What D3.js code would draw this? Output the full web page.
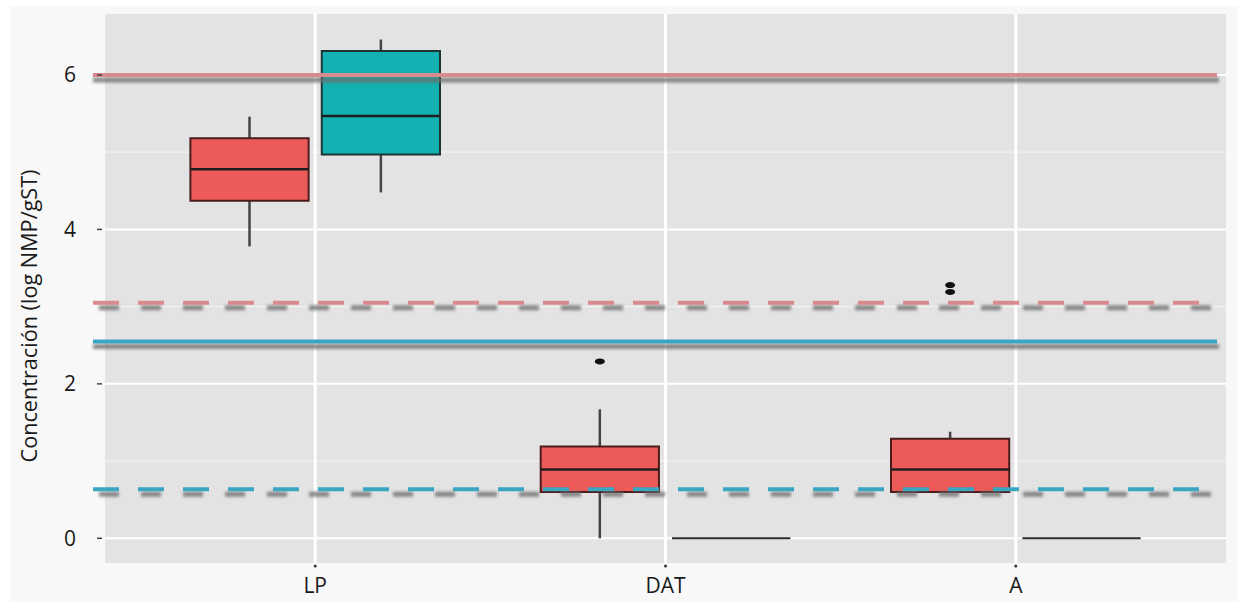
<!DOCTYPE html>
<html lang="es">
<head>
<meta charset="utf-8">
<title>Concentración</title>
<script src="https://d3js.org/d3.v7.min.js"></script>
<style>
  body { margin: 0; background: #ffffff; }
  svg { display: block; }
</style>
</head>
<body>
<script>
// categories and box statistics (log NMP/gST)
const categories = ["LP", "DAT", "A"];
const groups = ["rojo", "turquesa"];
const yTicks = [0, 2, 4, 6];
const yMinor = [1, 3, 5];

const redLow  = [3.78, 0.00, 0.60];
const redQ1   = [4.37, 0.60, 0.60];
const redMed  = [4.78, 0.89, 0.89];
const redQ3   = [5.18, 1.19, 1.29];
const redHigh = [5.46, 1.67, 1.38];
const redOut  = [[], [2.29], [3.28, 3.19]];

const tealLow  = [4.48, 0, 0];
const tealQ1   = [4.97, 0, 0];
const tealMed  = [5.47, 0, 0];
const tealQ3   = [6.31, 0, 0];
const tealHigh = [6.46, 0, 0];
const tealOut  = [[], [], []];

// reference lines
const refValues = [6.0, 3.05, 2.55, 0.635];
const refColors = ["#d98a8c", "#d98a8c", "#3aa6c4", "#3aa6c4"];
const refDashed = [false, true, false, true];

const W = 1238, H = 602;
const panel = { left: 105, right: 1226, top: 14, bottom: 563 };

const svg = d3.select("body").append("svg")
  .attr("width", W).attr("height", H);

const defs = svg.append("defs");
defs.append("filter").attr("id", "blur")
  .attr("filterUnits", "userSpaceOnUse")
  .attr("x", 0).attr("y", 0).attr("width", W).attr("height", H)
  .append("feGaussianBlur").attr("stdDeviation", 1.8);

// plot background
svg.append("rect").attr("x", 10).attr("y", 6).attr("width", W - 10).attr("height", H - 6)
  .attr("fill", "#f8f8f8");

const x = d3.scaleBand().domain(categories)
  .range([panel.left, panel.right]).paddingInner(0).paddingOuter(0.1);
const y = d3.scaleLinear().domain([-0.32, 6.79]).range([panel.bottom, panel.top]);
const cx = c => x(c) + x.bandwidth() / 2;

const step = x.step();
const sub = d3.scaleBand().domain(groups)
  .range([-0.375 * step, 0.375 * step]).paddingInner(0.1).paddingOuter(0.05);

// panel
svg.append("rect")
  .attr("x", panel.left).attr("y", panel.top)
  .attr("width", panel.right - panel.left).attr("height", panel.bottom - panel.top)
  .attr("fill", "#e3e3e3");

const grid = svg.append("g");
grid.selectAll(".minor").data(yMinor).enter().append("line")
  .attr("x1", panel.left).attr("x2", panel.right)
  .attr("y1", d => y(d)).attr("y2", d => y(d))
  .attr("stroke", "#f1f1f1").attr("stroke-width", 1.2);
grid.selectAll(".major").data(yTicks).enter().append("line")
  .attr("x1", panel.left).attr("x2", panel.right)
  .attr("y1", d => y(d)).attr("y2", d => y(d))
  .attr("stroke", "#ffffff").attr("stroke-width", 2);
grid.selectAll(".vert").data(categories).enter().append("line")
  .attr("x1", d => cx(d)).attr("x2", d => cx(d))
  .attr("y1", panel.top).attr("y2", panel.bottom)
  .attr("stroke", "#ffffff").attr("stroke-width", 3);

// boxes
const boxData = [];
categories.forEach((c, i) => {
  boxData.push({ cat: c, g: "rojo", fill: "#ec5b58", stroke: "#4a1c1c",
    low: redLow[i], q1: redQ1[i], med: redMed[i], q3: redQ3[i], high: redHigh[i], out: redOut[i] });
  boxData.push({ cat: c, g: "turquesa", fill: "#13b1b1", stroke: "#1c3434",
    low: tealLow[i], q1: tealQ1[i], med: tealMed[i], q3: tealQ3[i], high: tealHigh[i], out: tealOut[i] });
});

const boxes = svg.append("g").selectAll("g").data(boxData).enter().append("g");
const bx0 = d => cx(d.cat) + sub(d.g);
const bx1 = d => bx0(d) + sub.bandwidth();
const bxm = d => bx0(d) + sub.bandwidth() / 2;

boxes.filter(d => d.high > d.q3).append("line")
  .attr("x1", bxm).attr("x2", bxm)
  .attr("y1", d => y(d.q3)).attr("y2", d => y(d.high))
  .attr("stroke", "#444").attr("stroke-width", 2.5);
boxes.filter(d => d.low < d.q1).append("line")
  .attr("x1", bxm).attr("x2", bxm)
  .attr("y1", d => y(d.q1)).attr("y2", d => y(d.low))
  .attr("stroke", "#444").attr("stroke-width", 2.5);

boxes.append("path")
  .attr("d", d => "M" + bx0(d) + "," + y(d.q3) + "H" + bx1(d) + "V" + y(d.q1) + "H" + bx0(d) + "Z")
  .attr("fill", d => d.fill)
  .attr("stroke", d => d.q3 > d.q1 ? d.stroke : "#2b2b2b")
  .attr("stroke-width", 2);
boxes.filter(d => d.q3 > d.q1).append("line")
  .attr("x1", bx0).attr("x2", bx1)
  .attr("y1", d => y(d.med)).attr("y2", d => y(d.med))
  .attr("stroke", "#1e1e1e").attr("stroke-width", 2.5);

boxes.selectAll("ellipse").data(d => d.out.map(v => ({ v: v, xm: bxm(d) }))).enter()
  .append("ellipse")
  .attr("cx", d => d.xm).attr("cy", d => y(d.v))
  .attr("rx", 5).attr("ry", 3)
  .attr("fill", "#111");

// reference lines with shadows
const refs = svg.append("g");
const lx1 = panel.left - 12, lx2 = panel.right - 9;
refValues.forEach((v, i) => {
  refs.append("line")
    .attr("x1", lx1 + (refDashed[i] ? 6 : 0)).attr("x2", lx2 + 2)
    .attr("y1", y(v) + 5).attr("y2", y(v) + 5)
    .attr("stroke", "#6e6e6e").attr("stroke-opacity", 0.8)
    .attr("stroke-width", 5)
    .attr("stroke-dasharray", refDashed[i] ? "20 22" : null)
    .attr("filter", "url(#blur)");
  refs.append("line")
    .attr("x1", lx1).attr("x2", lx2)
    .attr("y1", y(v)).attr("y2", y(v))
    .attr("stroke", refColors[i]).attr("stroke-width", 4)
    .attr("stroke-dasharray", refDashed[i] ? "26 19" : null);
});

// axes
const yAxis = svg.append("g");
yAxis.selectAll("line").data(yTicks).enter().append("line")
  .attr("x1", panel.left - 8).attr("x2", panel.left - 3)
  .attr("y1", d => y(d)).attr("y2", d => y(d))
  .attr("stroke", "#444").attr("stroke-width", 1.5);
yAxis.selectAll("text").data(yTicks).enter().append("text")
  .attr("x", 76).attr("y", d => y(d))
  .attr("dy", "0.35em").attr("text-anchor", "end")
  .attr("font-family", "Open Sans, sans-serif").attr("font-size", 21)
  .attr("fill", "#1a1a1a")
  .text(d => d);

const xAxis = svg.append("g");
xAxis.selectAll("circle").data(categories).enter().append("circle")
  .attr("cx", d => cx(d)).attr("cy", panel.bottom + 3).attr("r", 1.5)
  .attr("fill", "#333");
xAxis.selectAll("text").data(categories).enter().append("text")
  .attr("x", d => cx(d)).attr("y", 593)
  .attr("text-anchor", "middle")
  .attr("font-family", "Open Sans, sans-serif").attr("font-size", 21)
  .attr("fill", "#1a1a1a")
  .text(d => d);

svg.append("text")
  .attr("transform", "translate(37," + 316 + ") rotate(-90)")
  .attr("text-anchor", "middle")
  .attr("font-family", "Liberation Sans Narrow, Open Sans, sans-serif")
  .attr("font-size", 22)
  .attr("textLength", 293).attr("lengthAdjust", "spacingAndGlyphs")
  .attr("fill", "#1a1a1a")
  .text("Concentración (log NMP/gST)");
</script>
</body>
</html>
